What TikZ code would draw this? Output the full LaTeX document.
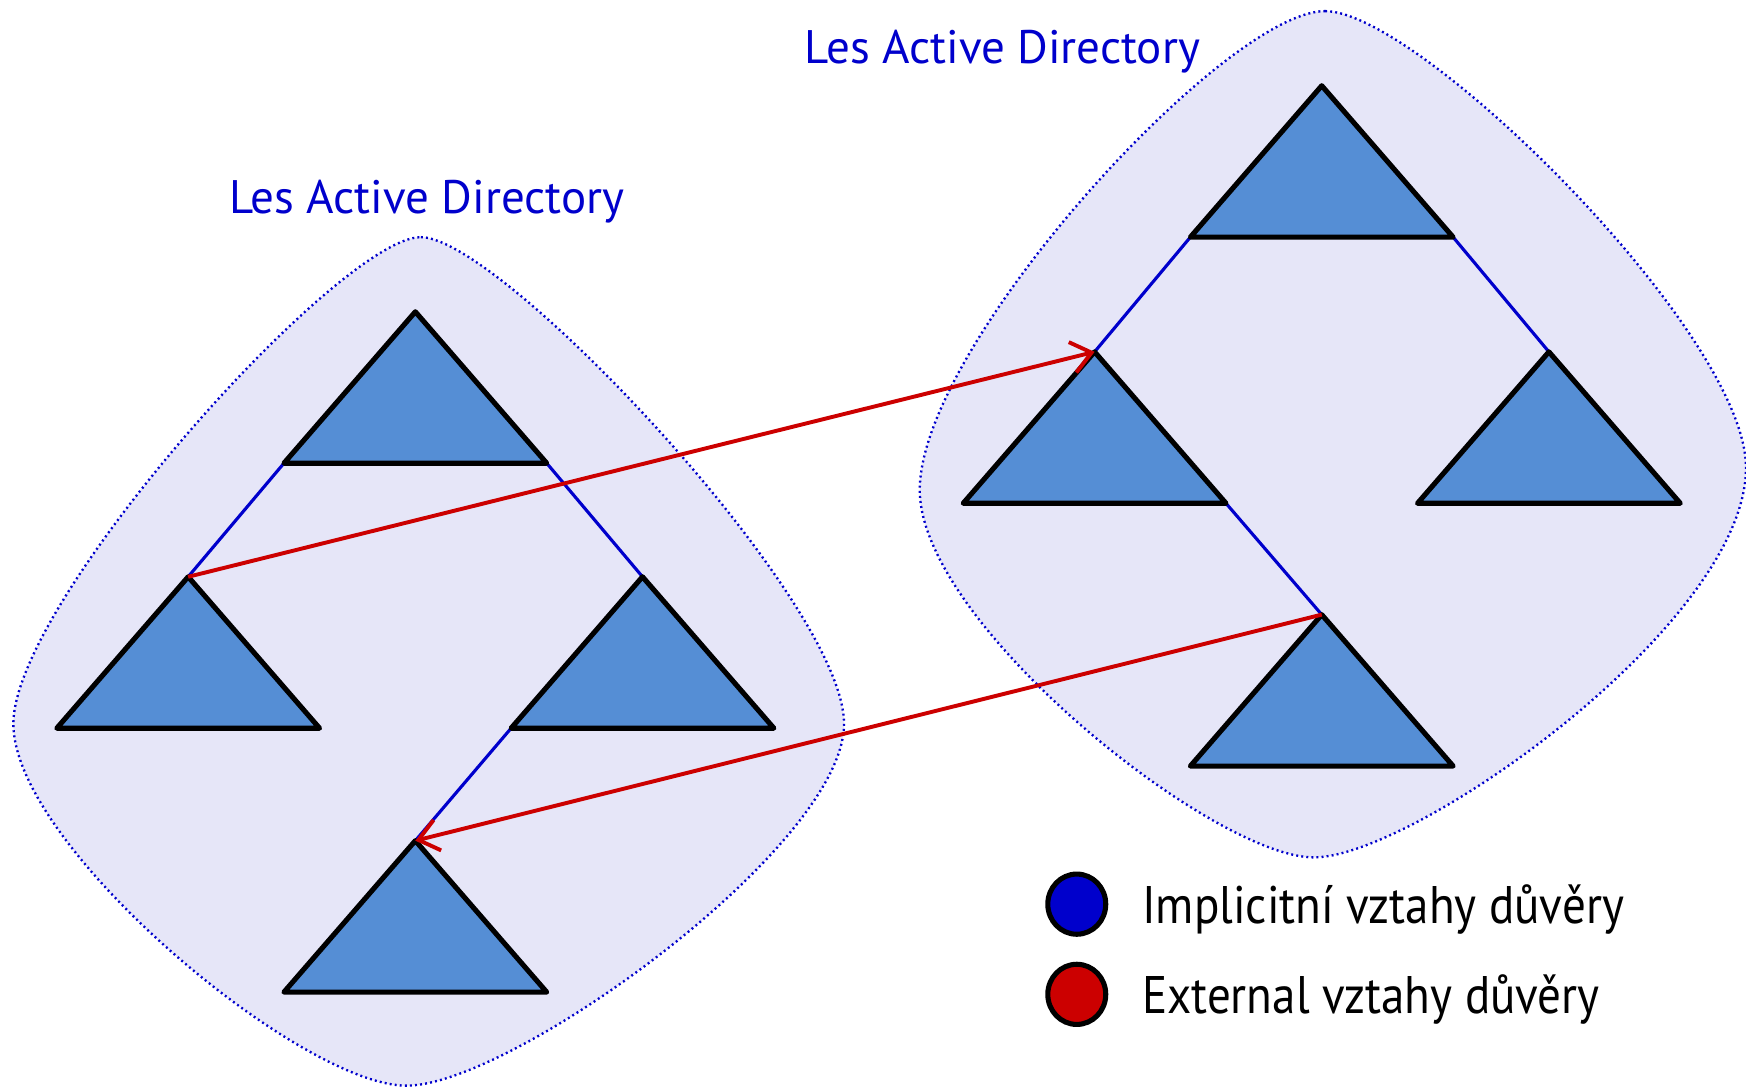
\documentclass[tikz,border=0pt]{standalone}
\usepackage{fontspec}
\setmainfont{PT Sans}
\newfontfamily\legendfont[FakeStretch=0.89]{PT Sans}
\usetikzlibrary{arrows.meta,shapes.geometric,positioning}

\definecolor{forestfill}{RGB}{230,230,248}
\definecolor{domainfill}{RGB}{85,142,213}
\definecolor{trustblue}{RGB}{0,0,204}
\definecolor{trustred}{RGB}{204,0,0}

\pgfdeclarelayer{blobs}
\pgfdeclarelayer{links}
\pgfsetlayers{blobs,links,main}

\tikzset{
    forestarea/.style={fill=forestfill, draw=trustblue, line width=0.6pt, dash pattern=on 0.5pt off 0.8pt},
    domaintri/.pic={
        \coordinate (-top) at (0,0);
        \coordinate (-left) at (-118,136);
        \coordinate (-right) at (118,136);
        \draw[line width=1.3pt, line join=round, fill=domainfill] (-top) -- (-left) -- (-right) -- cycle;
    },
    implicit/.style={draw=trustblue, line width=0.8pt},
    external/.style={draw=trustred, line width=1pt, -{Straight Barb[length=5pt,width=8pt]}},
    forestlabel/.style={text=trustblue, font=\fontsize{12}{14}\selectfont, inner sep=0pt, anchor=base west},
    legendmark/.style={ellipse, draw, line width=1.3pt, minimum width=0.52cm, minimum height=0.54cm, inner sep=0pt},
    legendtext/.style={font=\legendfont\fontsize{13.5}{16}\selectfont, inner sep=0pt, anchor=base west}
}

\begin{document}
\begin{tikzpicture}[x=0.01cm, y=-0.01cm]
            \useasboundingbox (0,0) rectangle (1568,977);

            % the two forests
            \begin{pgfonlayer}{blobs}
                \path[forestarea] (378,213) .. controls (450,213) and (758,540) .. (758,650)
                    .. controls (758,760) and (460,975) .. (365,975)
                    .. controls (270,975) and (12,760) .. (12,650)
                    .. controls (12,540) and (305,213) .. (378,213) -- cycle;
                \path[forestarea] (1190,10) .. controls (1275,10) and (1568,300) .. (1568,420)
                    .. controls (1568,560) and (1270,770) .. (1180,770)
                    .. controls (1090,770) and (826,560) .. (826,440)
                    .. controls (826,310) and (1100,10) .. (1190,10) -- cycle;
            \end{pgfonlayer}

            \node[forestlabel] (leftLabel) at (205,192) {Les Active Directory};
            \node[forestlabel] (rightLabel) at (722,57) {Les Active Directory};

            % domains
            \pic (T1) at (373,280) {domaintri};
            \pic (T2) at (169,518) {domaintri};
            \pic (T3) at (577,518) {domaintri};
            \pic (T4) at (373,755) {domaintri};

            \pic (R1) at (1187,77) {domaintri};
            \pic (R2) at (983,316) {domaintri};
            \pic (R3) at (1391,316) {domaintri};
            \pic (R4) at (1187,552) {domaintri};

            % implicit trusts
            \begin{pgfonlayer}{links}
                \draw[implicit] (T1-left) -- (T2-top);
                \draw[implicit] (T1-right) -- (T3-top);
                \draw[implicit] (T3-left) -- (T4-top);
                \draw[implicit] (R1-left) -- (R2-top);
                \draw[implicit] (R1-right) -- (R3-top);
                \draw[implicit] (R2-right) -- (R4-top);
            \end{pgfonlayer}

            % external trusts
            \draw[external] (T2-top) -- (R2-top);
            \draw[external] (R4-top) -- (T4-top);

            % legend
            \node[legendmark, fill=trustblue] (implMark) at (967,812) {};
            \node[legendmark, fill=trustred] (extMark) at (967,893) {};
            \node[legendtext] (implText) at (1025,829) {Implicitní vztahy důvěry};
            \node[legendtext] (extText) at (1025,910) {External vztahy důvěry};
        \end{tikzpicture}
\end{document}
